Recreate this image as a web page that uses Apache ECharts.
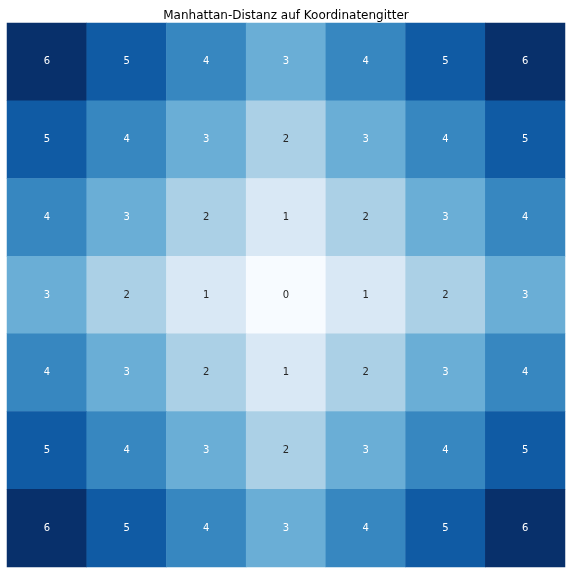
<!DOCTYPE html>
<html><head><meta charset="utf-8">
<script src="https://cdn.jsdelivr.net/npm/echarts@6/dist/echarts.min.js"></script>
<style>html,body{margin:0;padding:0;background:#fff}#c{width:572px;height:574px}</style>
</head><body><div id="c"></div>
<script>
const xCategories = ['0','1','2','3','4','5','6'];
const yCategories = ['0','1','2','3','4','5','6'];
const distances = [
  [6,5,4,3,4,5,6],
  [5,4,3,2,3,4,5],
  [4,3,2,1,2,3,4],
  [3,2,1,0,1,2,3],
  [4,3,2,1,2,3,4],
  [5,4,3,2,3,4,5],
  [6,5,4,3,4,5,6]
];
const palette = ['#f7fbff','#d9e8f5','#abd0e6','#6aaed6','#3787c0','#105ba4','#08306b'];

const data = [];
distances.forEach((row, r) => {
  row.forEach((v, c) => {
    data.push({value: [c, r, v], label: {color: v >= 3 ? '#ffffff' : '#262626'}});
  });
});

const chart = echarts.init(document.getElementById('c'), null, {renderer: 'canvas'});
chart.setOption({
  animation: false,
  title: {text: 'Manhattan-Distanz auf Koordinatengitter', left: 'center', top: 5,
    textStyle: {fontFamily: 'DejaVu Sans', fontSize: 12, fontWeight: 'normal', color: '#000'}},
  grid: {left: 7, right: 7, top: 23, bottom: 7},
  xAxis: {type: 'category', data: xCategories, show: false},
  yAxis: {type: 'category', data: yCategories, inverse: true, show: false},
  visualMap: {type: 'piecewise', show: false, dimension: 2,
    pieces: palette.map((c, i) => ({value: i, color: c}))},
  series: [{
    type: 'heatmap', data: data,
    label: {show: true, fontFamily: 'DejaVu Sans', fontSize: 10, formatter: p => p.value[2]},
    itemStyle: {borderWidth: 0},
    emphasis: {disabled: true}
  }]
});
</script></body></html>
